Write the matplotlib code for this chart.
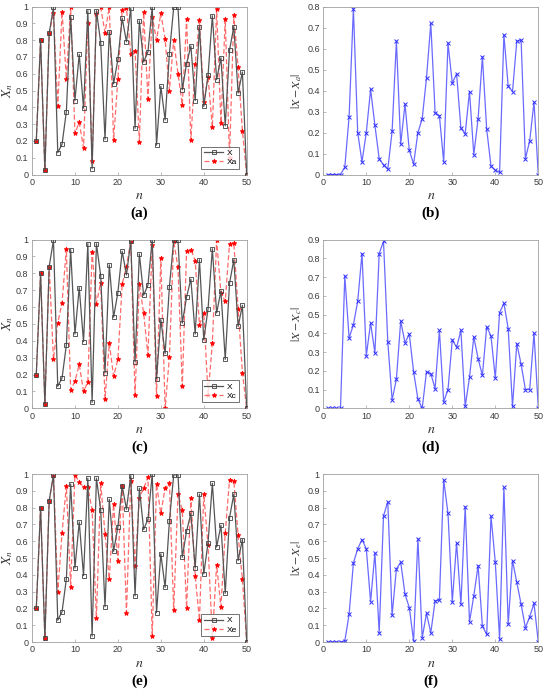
import matplotlib
matplotlib.use("Agg")
import matplotlib.pyplot as plt
import numpy as np

n = list(range(1, 51))

X = [0.2, 0.8, 0.025, 0.84, 0.995, 0.13, 0.18, 0.375, 0.94, 0.44,
     0.715, 0.395, 0.975, 0.035, 0.975, 0.785, 0.21, 0.85, 0.54, 0.685,
     0.93, 0.79, 0.99, 0.275, 0.915, 0.67, 0.73, 1.0, 0.175, 0.525,
     0.325, 0.72, 0.995, 0.995, 0.505, 0.66, 0.765, 0.44, 0.88, 0.405,
     0.59, 0.945, 0.565, 0.695, 0.29, 0.74, 0.88, 0.485, 0.61, 0.0]

Xa = [0.2, 0.8, 0.025, 0.84, 0.96, 0.405, 0.97, 0.57, 1.0, 0.245,
      0.31, 0.16, 0.9, 0.08, 0.955, 0.995, 0.845, 0.995, 0.205, 0.57,
      0.98, 0.99, 0.72, 0.735, 0.195, 0.965, 0.45, 0.94, 0.8, 0.96,
      0.805, 0.5, 0.8, 0.6, 0.415, 0.925, 0.205, 0.655, 0.92, 0.43,
      0.58, 0.28, 0.985, 0.305, 0.925, 0.10, 0.95, 0.64, 0.26, 0.0]

Da = [0, 0, 0, 0, 0.035, 0.275, 0.79, 0.2, 0.06, 0.2,
      0.405, 0.235, 0.075, 0.045, 0.025, 0.205, 0.635, 0.145, 0.335, 0.115,
      0.05, 0.2, 0.265, 0.46, 0.72, 0.295, 0.28, 0.06, 0.625, 0.435,
      0.48, 0.22, 0.195, 0.395, 0.095, 0.265, 0.56, 0.215, 0.04, 0.02,
      0.01, 0.665, 0.42, 0.395, 0.635, 0.64, 0.075, 0.16, 0.345, 0.0]

Xc = [0.2, 0.8, 0.025, 0.84, 0.29, 0.505, 0.625, 0.945, 0.11, 0.16,
      0.26, 0.1, 0.155, 0.925, 0.62, 0.745, 0.055, 0.385, 0.19, 0.29,
      0.735, 0.84, 0.99, 0.08, 0.735, 0.565, 0.315, 0.965, 0.075, 0.89,
      0.0, 0.305, 0.99, 0.835, 0.13, 0.93, 0.94, 0.875, 0.495, 0.565,
      0.08, 0.385, 0.995, 0.685, 0.635, 0.975, 0.98, 0.59, 0.21, 0.0]

Dc = [0, 0, 0, 0, 0.705, 0.375, 0.445, 0.57, 0.825, 0.28,
      0.455, 0.295, 0.825, 0.89, 0.355, 0.045, 0.155, 0.465, 0.35, 0.395,
      0.195, 0.05, 0.0, 0.195, 0.185, 0.105, 0.415, 0.035, 0.1, 0.365,
      0.325, 0.415, 0.01, 0.165, 0.38, 0.265, 0.175, 0.435, 0.385, 0.16,
      0.51, 0.56, 0.425, 0.01, 0.345, 0.235, 0.1, 0.1, 0.4, 0.0]

Xe = [0.2, 0.8, 0.025, 0.84, 0.995, 0.295, 0.65, 0.93, 0.33, 0.995,
      0.95, 0.925, 0.92, 0.785, 0.14, 0.945, 0.645, 0.375, 0.82, 0.485,
      0.93, 0.175, 0.96, 0.45, 0.86, 0.915, 0.98, 0.035, 0.94, 0.765,
      0.915, 0.945, 0.19, 0.88, 0.785, 0.205, 0.86, 0.395, 0.13, 0.88,
      0.575, 0.025, 0.46, 0.21, 0.65, 0.965, 0.96, 0.635, 0.375, 0.0]

De = [0, 0, 0, 0, 0.005, 0.165, 0.47, 0.555, 0.61, 0.555,
      0.24, 0.53, 0.055, 0.75, 0.835, 0.16, 0.435, 0.475, 0.285, 0.205,
      0.005, 0.615, 0.025, 0.17, 0.055, 0.245, 0.25, 0.965, 0.765, 0.24,
      0.59, 0.225, 0.805, 0.12, 0.275, 0.455, 0.095, 0.045, 0.75, 0.475,
      0.015, 0.92, 0.105, 0.485, 0.355, 0.225, 0.085, 0.15, 0.23, 0.0]

panel_labels = ["(a)", "(b)", "(c)", "(d)", "(e)", "(f)"]
series_names = ["a", "c", "e"]
rows = [(Xa, Da, 1.0, 0.8), (Xc, Dc, 1.0, 0.9), (Xe, De, 1.0, 1.0)]

plt.rcParams['mathtext.fontset'] = 'stix'
plt.rcParams['font.family'] = 'Liberation Sans'

W, H = 550, 692
fig = plt.figure(figsize=(W / 100, H / 100), dpi=100)

def frac_axes(x0, x1, ytop, ybot):
    return fig.add_axes([x0 / W, 1 - ybot / H, (x1 - x0) / W, (ybot - ytop) / H])

row_px = [(6.5, 174.5), (239.5, 408.3), (474, 642)]
spine_col = '#a0a0a0'
tick_col = '#3a3a3a'

def style(ax, ymax):
    ax.set_xlim(0, 50)
    ax.set_ylim(0, ymax)
    ax.set_xticks([0, 10, 20, 30, 40, 50])
    ticks = np.round(np.arange(0, ymax + 1e-9, 0.1), 1)
    ax.set_yticks(ticks)
    ax.set_yticklabels([f"{v:g}" for v in ticks])
    for s in ax.spines.values():
        s.set_color(spine_col)
        s.set_linewidth(0.6)
    ax.tick_params(direction='in', length=2.5, width=0.5, color=spine_col,
                   labelsize=6.5, labelcolor=tick_col, pad=2.5, top=False, right=False)
    ax.set_xlabel(r'$n$', fontsize=10, color='#333333', labelpad=1)

for i, (Xs, Ds, ymaxl, ymaxr) in enumerate(rows):
    ytop, ybot = row_px[i]
    s = series_names[i]
    # left panel
    axl = frac_axes(32, 246.7, ytop, ybot)
    axl.plot(n, X, '-', color='#555555', lw=0.9, marker='s', ms=3.3,
             mfc='none', mec='#404040', mew=0.6, label='X', zorder=3)
    axl.plot(n, Xs, '--', color='#ff6a6a', lw=0.9, marker='*', ms=3.5,
             mfc='red', mec='red', mew=0.6, label='X' + s, zorder=2,
             dashes=(4, 2))
    style(axl, ymaxl)
    axl.set_ylabel(r'$X_n$', fontsize=9.5, color='#333333', labelpad=1)
    leg = axl.legend(loc='lower right', bbox_to_anchor=(1 - 7.5 / 214.7, 6 / (ybot - ytop)),
                     borderaxespad=0, fontsize=6, frameon=True, fancybox=False,
                     handlelength=2.3, handletextpad=0.4, borderpad=0.3,
                     labelspacing=0.15)
    leg.get_frame().set_edgecolor('#333333')
    leg.get_frame().set_linewidth(0.6)
    fig.text((32 + 246.7) / 2 / W, 1 - (ybot + 39) / H, panel_labels[2 * i],
             ha='center', va='center', fontsize=11, fontweight='bold',
             family='Liberation Serif')
    # right panel
    axr = frac_axes(323.3, 538.3, ytop, ybot)
    axr.plot(n, Ds, '-', color='#6a6aff', lw=0.9, marker='x', ms=2.5,
             mec='#3030ff', mew=0.7)
    style(axr, ymaxr)
    axr.set_ylabel(r'$|X - X_%s|$' % s, fontsize=8.5, color='#333333', labelpad=2)
    fig.text((323.3 + 538.3) / 2 / W, 1 - (ybot + 39) / H, panel_labels[2 * i + 1],
             ha='center', va='center', fontsize=11, fontweight='bold',
             family='Liberation Serif')

fig.savefig('out.png', dpi=100)
